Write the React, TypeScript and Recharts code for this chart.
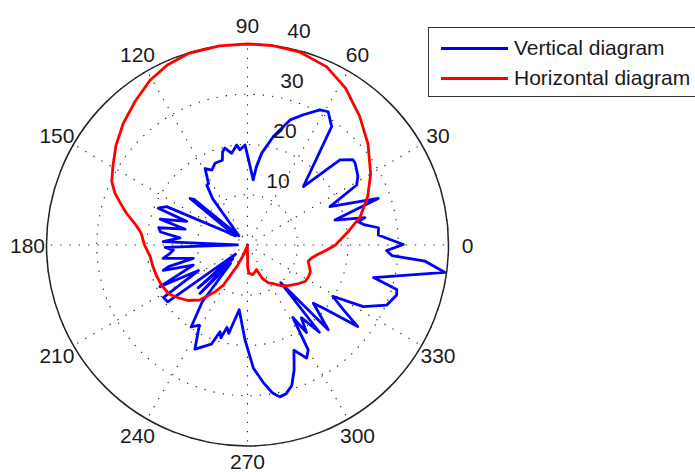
import React from 'react';
import { RadarChart, Radar, PolarGrid, PolarAngleAxis, PolarRadiusAxis, Legend } from 'recharts';

// vertical diagram (blue), angle in degrees -> gain
const verticalAngles = [
  0.2, 4.4, 7.5, 9.7, 11.9, 13.1, 15.9, 19.6, 24.9, 28.8, 32, 37.2, 39, 42.6, 46.3, 54.6, 58.8, 61.8, 66.8, 71.2,
  76.6, 81.2, 83.5, 85, 88.7, 91.4, 94.5, 96.2, 99.8, 103.1, 105, 106.5, 111.7, 115.5, 119, 122.4, 124.2, 127, 133, 139.5,
  141, 143, 148, 154.6, 157.6, 158.8, 163.5, 165.8, 169, 171.5, 174, 177.7, 179.3, 181.6, 183.9, 186.1, 189, 193.8, 195.3, 196.8,
  200.3, 205.5, 207.5, 212, 215.5, 217.5, 221, 223, 225.5, 227.5, 231.5, 235.5, 239, 243.2, 250, 252.4, 254, 256, 258, 262.7,
  268.5, 272.7, 276.5, 279.5, 282, 284.5, 287.5, 290.5, 293.8, 297.6, 300.1, 302, 304, 306.5, 309.5, 311.5, 313.6, 316.5, 318.5, 320.5,
  323.5, 326, 329, 332, 336.7, 341.5, 343.4, 345.5, 352.1, 354.8, 355.8, 357.7,
];
const verticalGain = [
  31, 26.1, 26.3, 23.7, 22.5, 24, 18.1, 27.6, 18.1, 24.8, 25.9, 26.9, 27, 25, 16.1, 28.9, 31, 30.5, 28.2, 26.3,
  22.2, 18.5, 15.7, 13, 16.3, 19.9, 19, 20, 18.5, 19.8, 19.2, 17.6, 17.5, 16.5, 17.4, 14.5, 14.4, 11.5, 2.5, 14,
  14.7, 3, 5, 17.8, 19.2, 13, 18.1, 12.8, 18, 17.5, 13.5, 16.8, 2, 16.4, 14.8, 15.5, 17, 11.1, 16.3, 17.5,
  11.5, 19.3, 11, 19.7, 19.5, 3, 13, 4, 13.5, 5, 14.5, 19.8, 18.6, 23.2, 21, 18.1, 19.2, 16.9, 18, 13,
  18.9, 24.5, 27.5, 29.8, 30.9, 30.6, 29.3, 26.5, 22.9, 25.4, 24.1, 17, 21, 18, 22.5, 10, 23.3, 19.5, 17.5, 20,
  27.3, 23, 19.8, 26.1, 30.2, 31.3, 31, 25.9, 39.7, 35.5, 28.8, 27.7,
];

// horizontal diagram (red)
const horizontalAngles = [
  0, 8, 14, 22, 30, 40, 49, 58, 66, 75, 83, 90, 98, 107, 114, 120.6, 128, 135.6, 143, 149.8,
  155, 158.7, 162, 165.3, 170, 173.6, 180, 186.8, 193, 199, 205, 212, 218, 223, 229, 235, 239, 244, 248, 254,
  262, 269, 270.5, 273, 280, 286, 290, 294, 299, 304, 310, 316, 322, 328, 333, 337, 341, 345, 348.5, 352, 356.4,
];
const horizontalGain = [
  17.5, 20.4, 23.1, 25.8, 28.3, 31.3, 34, 36.8, 38.8, 39.8, 40, 40, 40, 39.9, 39.2, 38.1, 36.3, 34.6, 32.8, 31,
  29.8, 28.3, 26.5, 24.9, 22.5, 21.3, 20.5, 19.5, 19.3, 19.1, 18.9, 18.4, 17.2, 16.2, 14.5, 11.5, 9.3, 4.5, 2, 0.4,
  0.2, 0.6, 4.5, 5.6, 6, 5.5, 5.2, 7.3, 8.6, 9.3, 10.6, 11.6, 12.6, 13.6, 13.7, 13.6, 13, 12.5, 13, 14, 15.8,
];

const angleDomain = [0, 360];
const radiusDomain = [0, 40];
const gridAngles = [0, 30, 60, 90, 120, 150, 180, 210, 240, 270, 300, 330];

const legendItems = [
  { name: 'Vertical diagram', color: '#0000ff' },
  { name: 'Horizontal diagram', color: '#ff0000' },
];

const verticalData = verticalAngles.map((angle, i) => ({ angle, gain: verticalGain[i] }));
const horizontalData = horizontalAngles.map((angle, i) => ({ angle, gain: horizontalGain[i] }));

const W = 695;
const H = 472;
const CX = 247.5;
const CY = 245;
const R = 201;
const FONT = '"Liberation Sans", Arial, Helvetica, sans-serif';
const TEXT = '#1a1a1a';

function AngleTick(props: any) {
  const { x, y, payload } = props;
  if (payload.value >= 360) return null;
  // keep the bottom label inside the picture
  const ty = Math.min(y, H - 11);
  return (
    <text x={x} y={ty} textAnchor="middle" dominantBaseline="central" fontSize={21} fontFamily={FONT} fill={TEXT}>
      {payload.value}
    </text>
  );
}

function RadiusTick(props: any) {
  const { x, y, payload } = props;
  if (payload.value === 0) return null;
  return (
    <text x={x + 23.5} y={y - 15} textAnchor="middle" dominantBaseline="central" fontSize={21} fontFamily={FONT} fill={TEXT}>
      {payload.value}
    </text>
  );
}

function LegendBox() {
  return (
    <div style={{ position: 'relative', width: 300, height: 70, border: '1px solid #333', background: '#fff', boxSizing: 'border-box' }}>
      {legendItems.map((item, i) => (
        <div key={item.name} style={{ position: 'absolute', left: 12, top: 7 + i * 30, height: 26, display: 'flex', alignItems: 'center', whiteSpace: 'nowrap' }}>
          <span style={{ display: 'inline-block', width: 67, height: 3, background: item.color }} />
          <span style={{ marginLeft: 6, fontSize: 21, fontFamily: FONT, color: TEXT }}>{item.name}</span>
        </div>
      ))}
    </div>
  );
}

const chartProps = {
  width: W,
  height: H,
  cx: CX,
  cy: CY,
  outerRadius: R,
  startAngle: 0,
  endAngle: 360,
  margin: { top: 0, right: 0, bottom: 0, left: 0 },
};

export default function App() {
  return (
    <div style={{ position: 'absolute', left: 0, top: 0, width: W, height: H, overflow: 'hidden', background: '#fff' }}>
      <div style={{ position: 'absolute', left: 0, top: 0 }}>
        <RadarChart {...chartProps} data={verticalData}>
          <PolarGrid gridType="circle" polarAngles={gridAngles} stroke="#222" strokeWidth={1.1} strokeDasharray="1.3 8" />
          <PolarAngleAxis
            dataKey="angle"
            type="number"
            domain={angleDomain}
            tickCount={13}
            tickSize={19}
            tickLine={false}
            tick={AngleTick}
            axisLineType="circle"
            axisLine={{ stroke: '#222', strokeWidth: 1.5 }}
          />
          <PolarRadiusAxis angle={82} domain={radiusDomain} tickCount={5} axisLine={false} tick={RadiusTick} />
          <Radar
            name="Vertical diagram"
            dataKey="gain"
            stroke="#0000ff"
            strokeWidth={2.8}
            strokeLinejoin="round"
            fill="none"
            fillOpacity={0}
            dot={false}
            isAnimationActive={false}
          />
          <Legend
            layout="vertical"
            align="right"
            verticalAlign="top"
            content={LegendBox}
            wrapperStyle={{ left: 428, top: 27, width: 300 }}
          />
        </RadarChart>
      </div>
      <div style={{ position: 'absolute', left: 0, top: 0 }}>
        <RadarChart {...chartProps} data={horizontalData}>
          <PolarAngleAxis dataKey="angle" type="number" domain={angleDomain} tickCount={13} tick={false} tickLine={false} axisLine={false} />
          <PolarRadiusAxis domain={radiusDomain} tickCount={5} tick={false} axisLine={false} />
          <Radar
            name="Horizontal diagram"
            dataKey="gain"
            stroke="#ff0000"
            strokeWidth={2.8}
            strokeLinejoin="round"
            fill="none"
            fillOpacity={0}
            dot={false}
            isAnimationActive={false}
          />
        </RadarChart>
      </div>
    </div>
  );
}
